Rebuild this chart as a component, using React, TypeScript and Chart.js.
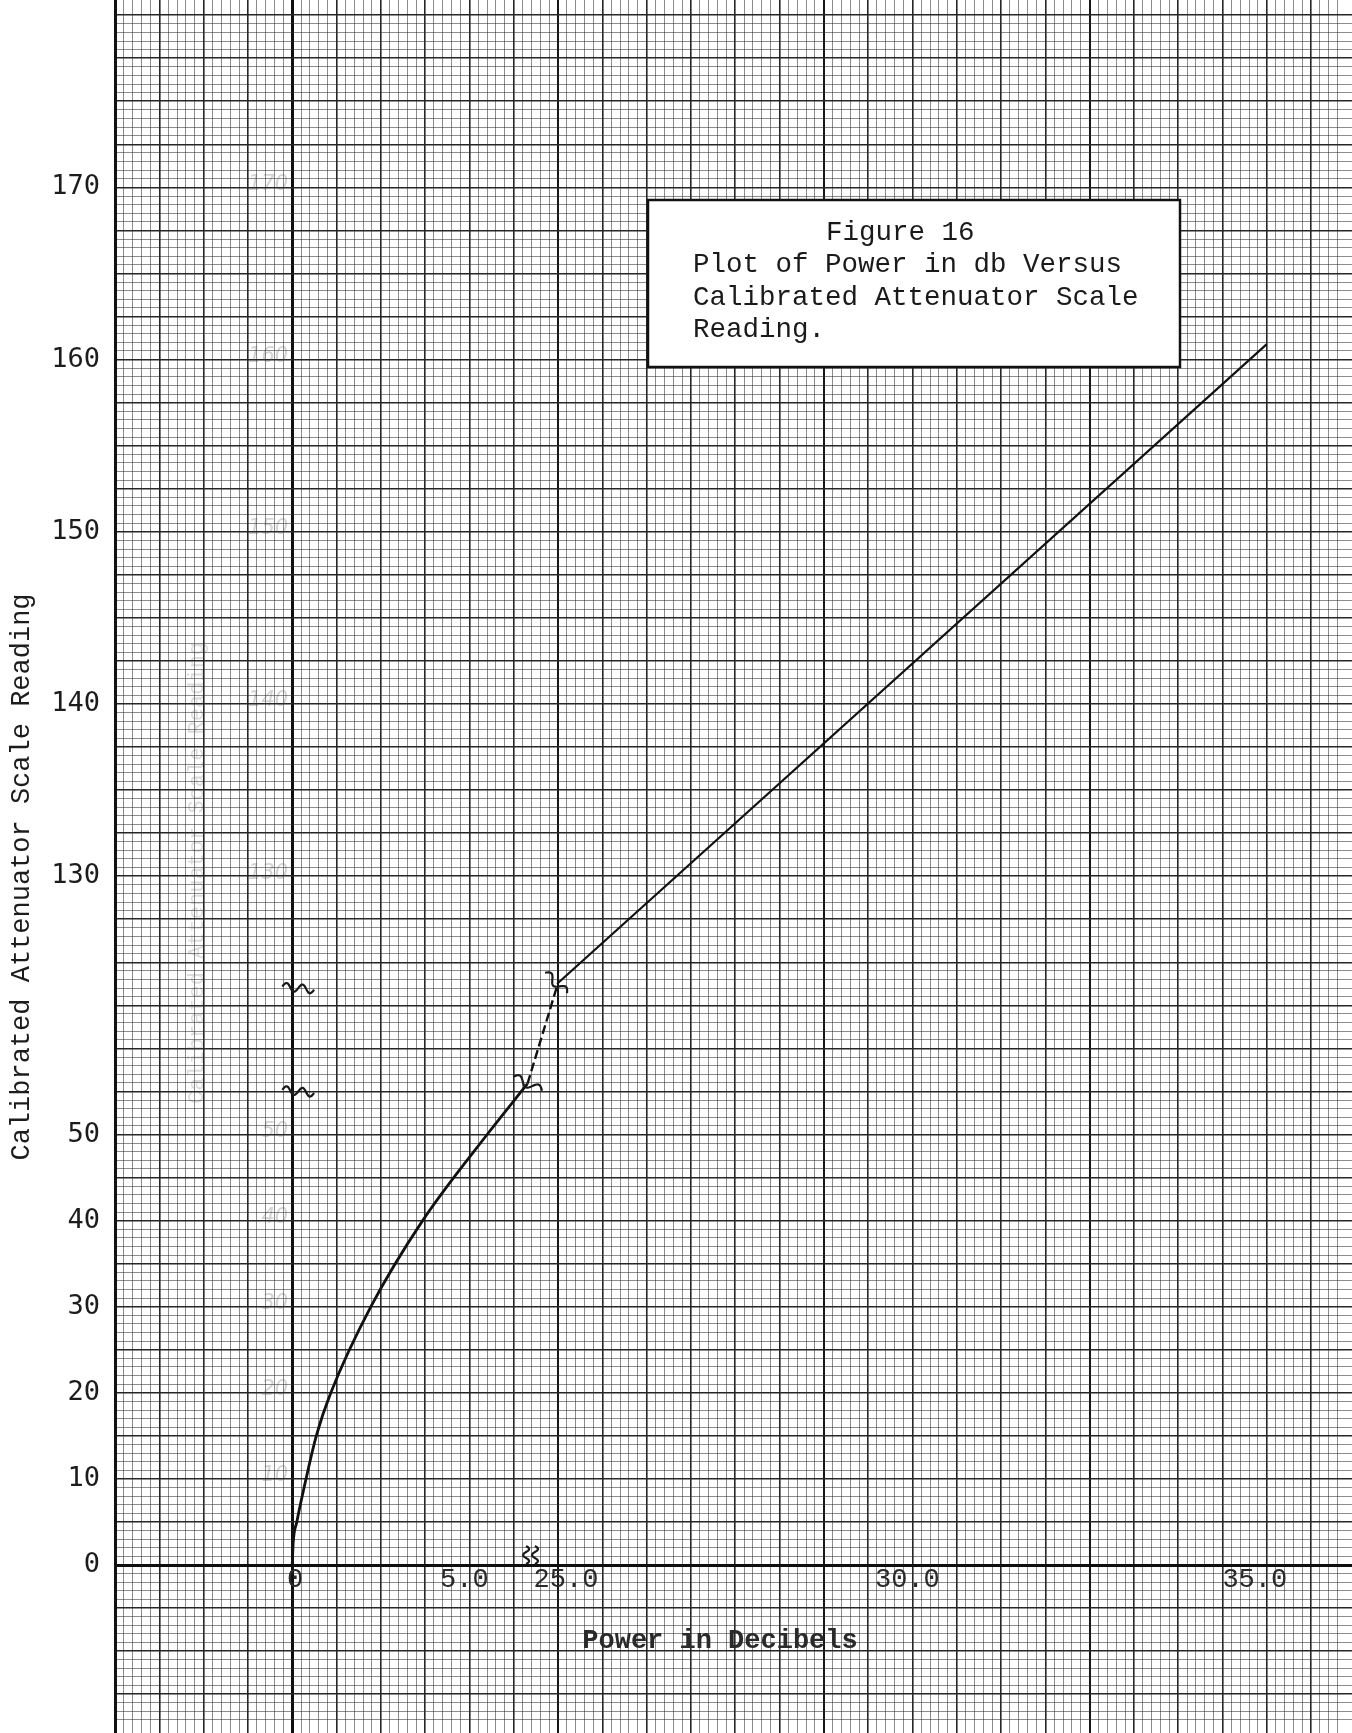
import React, { useEffect, useRef } from 'react';
import { Chart, registerables } from 'chart.js';

Chart.register(...registerables);

// ---------------- data (real axis units) ----------------
// x: Power in Decibels, y: Calibrated Attenuator Scale Reading
const lowerPower = [0, 0.03, 0.13, 0.39, 0.68, 1.09, 2.22, 3.68, 5.5, 6.64];
const lowerReading = [0, 2.7, 5, 10, 15, 20, 30, 40, 50, 55.9];
const dashPower = [6.64, 25.0];
const dashReading = [55.9, 123.8];
const upperPower = [25.0, 35.0];
const upperReading = [123.8, 160.9];

const xTickValues = [0, 5, 25, 30, 35];
const xTickLabels = ['0', '5.0', '25.0', '30.0', '35.0'];
const xLabelNudge = [3, -5, 8, -5, -12];
const yTickValues = [0, 10, 20, 30, 40, 50, 130, 140, 150, 160, 170];
const yTickLabels = ['0', '10', '20', '30', '40', '50', '130', '140', '150', '160', '170'];
const yGhostValues = [10, 20, 30, 40, 50, 130, 140, 150, 160, 170];
const yBreakMarks = [55, 123.5];
const xBreakMarks = [6.6, 6.85];

// ---------------- broken-axis scale definitions ----------------
// Graph paper is measured in cells; both axes are broken into two segments.
function mapX(v: number): number {
  if (v <= 15) return v / 1.25; // lower segment: 1.25 dB per cell
  return 6 + (v - 25) / 0.625; // upper segment: 25.0 at cell 6, 0.625 dB per cell
}
function mapY(v: number): number {
  if (v <= 90) return v / 5; // lower segment: 5 per cell
  return 16 + (v - 130) / 2.5; // upper segment: 130 at cell 16, 2.5 per cell
}

const pts = (xs: number[], ys: number[]) => xs.map((x, i) => ({ x: mapX(x), y: mapY(ys[i]) }));

function classify(v: number | undefined, heavySix: boolean): 'none' | 'zero' | 'six' | 'cell' | 'fine' {
  if (v === undefined || v === null) return 'none';
  const k5 = v * 5;
  const k = Math.round(k5);
  if (Math.abs(k5 - k) > 0.02) return 'none';
  if (k === 0) return 'zero';
  if (heavySix && k % 30 === 0) return 'six';
  if (k % 5 === 0) return 'cell';
  return 'fine';
}
const makeColor = (heavySix: boolean) => (c: any) => {
  const t = classify(c.tick && c.tick.value, heavySix);
  if (t === 'none') return 'rgba(0,0,0,0)';
  if (t === 'zero') return '#0e0e0e';
  if (t === 'six') return '#161616';
  if (t === 'cell') return '#262626';
  return 'rgba(45,45,45,0.55)';
};
const makeWidth = (heavySix: boolean) => (c: any) => {
  const t = classify(c.tick && c.tick.value, heavySix);
  if (t === 'zero') return 3;
  if (t === 'six') return 2;
  if (t === 'cell') return 1.6;
  return 1;
};

function squiggle(ctx: CanvasRenderingContext2D, cx: number, cy: number, w: number, amp: number, angle: number, periods: number) {
  ctx.save();
  ctx.translate(cx, cy);
  ctx.rotate(angle);
  ctx.beginPath();
  const n = 30;
  for (let i = 0; i <= n; i++) {
    const t = i / n;
    const x = -w / 2 + t * w;
    const y = -amp * Math.sin(t * Math.PI * 2 * periods);
    if (i === 0) ctx.moveTo(x, y);
    else ctx.lineTo(x, y);
  }
  ctx.stroke();
  ctx.restore();
}

const overlay = {
  id: 'overlay',
  afterDraw(chart: any) {
    const ctx: CanvasRenderingContext2D = chart.ctx;
    const xs = chart.scales.x;
    const ys = chart.scales.y;
    const px = (v: number) => xs.getPixelForValue(mapX(v));
    const py = (v: number) => ys.getPixelForValue(mapY(v));
    const area = chart.chartArea;
    ctx.save();

    // ghost (faded) labels left on the paper
    ctx.fillStyle = 'rgba(80,80,80,0.25)';
    ctx.font = 'italic 21px "DejaVu Sans"';
    ctx.textAlign = 'right';
    ctx.textBaseline = 'middle';
    yGhostValues.forEach((v) => ctx.fillText(String(v), px(0) - 4, py(v) - 3));
    ctx.save();
    ctx.translate(px(0) - 95, 873);
    ctx.rotate(-Math.PI / 2);
    ctx.textAlign = 'center';
    ctx.font = '22px "Liberation Mono"';
    ctx.fillStyle = 'rgba(80,80,80,0.2)';
    ctx.fillText('Calibrated Attenuator Scale Reading', 0, 0);
    ctx.restore();

    // y tick labels
    ctx.fillStyle = '#1c1c1c';
    ctx.font = '27px "DejaVu Sans Mono"';
    ctx.textAlign = 'right';
    ctx.textBaseline = 'middle';
    yTickValues.forEach((v, i) => ctx.fillText(yTickLabels[i], area.left - 15, py(v)));

    // x tick labels (typed just under the zero line)
    ctx.font = '27px "Liberation Mono"';
    ctx.textAlign = 'center';
    ctx.fillStyle = '#2a2a2a';
    xTickValues.forEach((v, i) => ctx.fillText(xTickLabels[i], px(v) + xLabelNudge[i], py(0) + 15));

    // axis titles
    ctx.save();
    ctx.translate(22, 877);
    ctx.rotate(-Math.PI / 2);
    ctx.font = '27px "Liberation Mono"';
    ctx.fillStyle = '#1c1c1c';
    ctx.textAlign = 'center';
    ctx.fillText('Calibrated Attenuator Scale Reading', 0, 0);
    ctx.restore();
    ctx.font = 'bold 27px "Liberation Mono"';
    ctx.fillStyle = '#2a2a2a';
    ctx.textAlign = 'center';
    ctx.fillText('Power in Decibels', 720, 1641);

    // break marks
    ctx.strokeStyle = '#1a1a1a';
    ctx.lineWidth = 2.2;
    yBreakMarks.forEach((v) => squiggle(ctx, px(0) + 6, py(v), 32, 4, 0.1, 2));
    xBreakMarks.forEach((v) => squiggle(ctx, px(v), py(0) - 10, 18, 3, Math.PI / 2, 1.5));
    squiggle(ctx, px(dashPower[0]), py(dashReading[0]), 32, 4, 0.45, 1.5);
    squiggle(ctx, px(dashPower[1]) - 2, py(dashReading[1]), 30, 4, 0.75, 1.5);

    // caption box
    const bx = 648, by = 200, bw = 532, bh = 167;
    ctx.fillStyle = '#ffffff';
    ctx.fillRect(bx, by, bw, bh);
    ctx.lineWidth = 2.5;
    ctx.strokeStyle = '#111111';
    ctx.strokeRect(bx, by, bw, bh);
    ctx.fillStyle = '#1a1a1a';
    ctx.font = '27.5px "Liberation Mono"';
    ctx.textAlign = 'left';
    ctx.textBaseline = 'middle';
    ctx.fillText('Figure 16', 826, 233);
    ctx.fillText('Plot of Power in db Versus', 693, 265);
    ctx.fillText('Calibrated Attenuator Scale', 693, 298);
    ctx.fillText('Reading.', 693, 330);
    ctx.restore();
  },
};

export default function App() {
  const ref = useRef<HTMLCanvasElement>(null);
  useEffect(() => {
    document.body.style.margin = '0';
    const canvas = ref.current;
    if (!canvas) return;
    const chart = new Chart(canvas, {
      type: 'scatter',
      data: {
        datasets: [
          {
            data: pts(lowerPower, lowerReading),
            showLine: true,
            borderColor: '#111111',
            borderWidth: 2.8,
            pointRadius: 0,
            cubicInterpolationMode: 'monotone',
          },
          {
            data: pts(dashPower, dashReading),
            showLine: true,
            borderColor: '#111111',
            borderWidth: 2.4,
            borderDash: [9, 4],
            pointRadius: 0,
          },
          {
            data: pts(upperPower, upperReading),
            showLine: true,
            borderColor: '#111111',
            borderWidth: 2.2,
            pointRadius: 0,
          },
        ],
      },
      options: {
        responsive: false,
        maintainAspectRatio: false,
        animation: false,
        devicePixelRatio: 1,
        events: [],
        layout: { padding: { left: 115, top: 0, right: 0, bottom: 0 } },
        plugins: { legend: { display: false }, tooltip: { enabled: false } },
        scales: {
          x: {
            type: 'linear',
            min: -4,
            max: 23.923,
            ticks: { display: false, stepSize: 0.2, autoSkip: false },
            grid: { color: makeColor(true), lineWidth: makeWidth(true), drawTicks: false },
            border: { display: false },
          },
          y: {
            type: 'linear',
            min: -3.902,
            max: 36.353,
            ticks: { display: false, stepSize: 0.2, autoSkip: false },
            grid: { color: makeColor(false), lineWidth: makeWidth(false), drawTicks: false },
            border: { display: true, color: '#111111', width: 3 },
          },
        },
      },
      plugins: [overlay],
    });
    return () => chart.destroy();
  }, []);
  return <canvas ref={ref} width={1352} height={1733} style={{ display: 'block', width: 1352, height: 1733 }} />;
}
